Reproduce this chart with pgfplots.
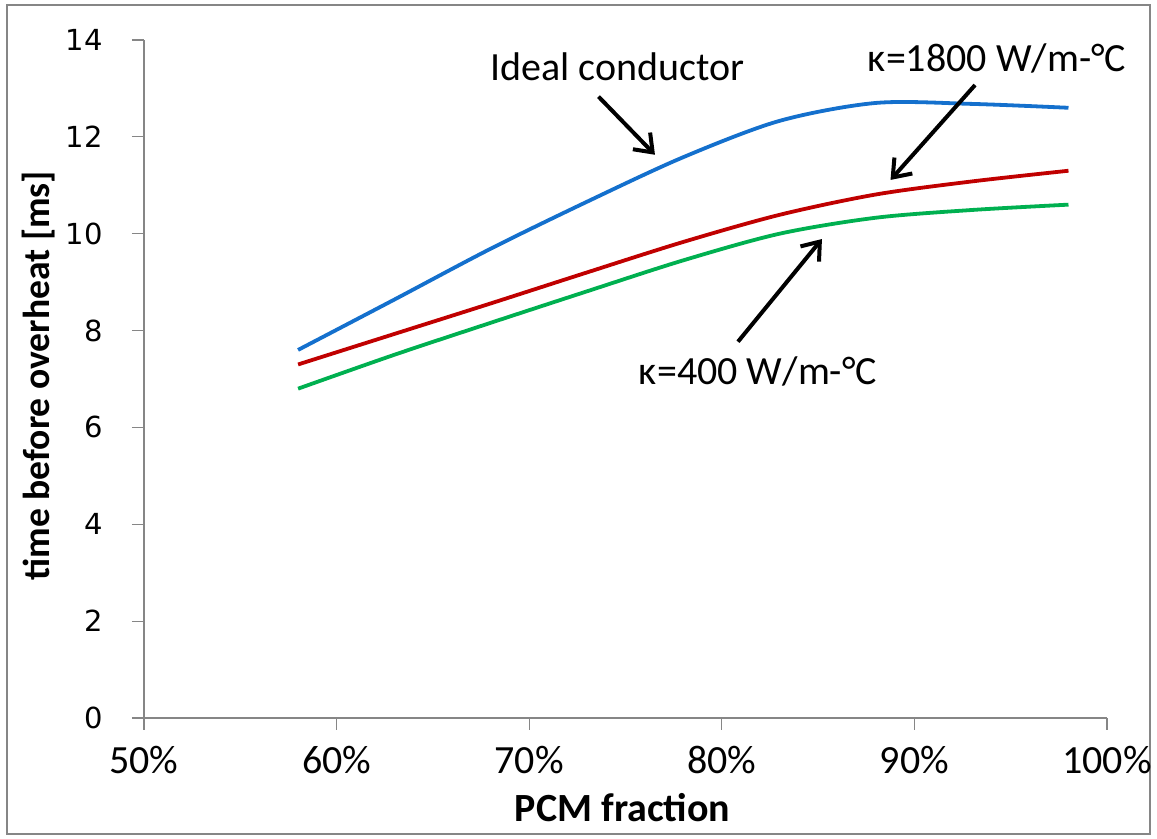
\documentclass[border=0pt]{standalone}
\usepackage{fontspec}
\setmainfont{Carlito}
\newfontfamily\dejavu{DejaVu Sans}
\usepackage{pgfplots}
\pgfplotsset{compat=1.18}
\usetikzlibrary{arrows.meta}

\definecolor{axisgray}{RGB}{134,134,134}
\definecolor{idealblue}{RGB}{20,112,205}
\definecolor{kred}{RGB}{192,0,0}
\definecolor{kgreen}{RGB}{0,176,80}

% time before overheat [ms] against PCM fraction [%]
\pgfplotstableread{
x     y
58    7.60
63    8.64
68    9.69
73   10.66
78   11.58
83   12.33
88   12.70
93   12.68
98   12.60
}\ideal
\pgfplotstableread{
x     y
58    7.30
63    7.93
68    8.56
73    9.20
78    9.83
83   10.39
88   10.81
93   11.08
98   11.30
}\kHigh
\pgfplotstableread{
x     y
58    6.80
63    7.50
68    8.16
73    8.81
78    9.45
83   10.00
88   10.33
93   10.49
98   10.60
}\kLow

\newcommand\yfont{\fontsize{14.5}{17}\selectfont\dejavu}
\newcommand\txtfont{\fontsize{20}{24}\selectfont}

\begin{document}
\begin{tikzpicture}
\useasboundingbox (0,0) rectangle (578.5pt,419.5pt);
\draw[axisgray, line width=0.6pt] (3.5pt,2.5pt) rectangle (575pt,417pt);
\begin{axis}[
  at={(72pt,60.5pt)}, anchor=south west,
  scale only axis, width=481.5pt, height=339pt,
  xmin=50, xmax=100, ymin=0, ymax=14,
  axis x line*=bottom, axis y line*=left,
  axis line style={draw=axisgray, line width=0.6pt},
  tick align=outside, major tick length=6pt,
  tick style={draw=axisgray, line width=0.6pt},
  xtick={50,60,70,80,90,100},
  xticklabels={50\%,60\%,70\%,80\%,90\%,100\%},
  ytick={0,2,4,6,8,10,12,14},
  yticklabels={0,2,4,6,8,10,12,14},
  xticklabel style={font=\txtfont, inner sep=0pt, anchor=north, yshift=-8pt},
  yticklabel style={font=\yfont, inner sep=0pt, anchor=east, xshift=-14.5pt},
  xlabel={PCM fraction},
  ylabel={time before overheat [ms]},
  xlabel style={font=\bfseries\txtfont, at={(axis description cs:0.497,-0.1534)}, anchor=base},
  ylabel style={font=\bfseries\fontsize{18.8}{22}\selectfont, at={(axis description cs:-0.109,0.505)}, anchor=center},
  clip=false,
]
\addplot[idealblue, line width=1.9pt, smooth] table[x=x,y=y] {\ideal};
\addplot[kred, line width=1.9pt, smooth] table[x=x,y=y] {\kHigh};
\addplot[kgreen, line width=1.9pt, smooth] table[x=x,y=y] {\kLow};

\node[anchor=base, font=\txtfont] at (axis cs:74.58,13.16) {Ideal conductor};
\node[anchor=base, font=\txtfont] at (axis cs:94.29,13.35) {κ=1800 W/m-°C};
\node[anchor=base, font=\txtfont] at (axis cs:81.88,6.88) {κ=400 W/m-°C};

\draw[line width=2pt, -{Straight Barb[length=8pt,width=12pt,line width=2pt]}] (axis cs:73.6,12.83) -- (axis cs:76.53,11.63);
\draw[line width=2pt, -{Straight Barb[length=8pt,width=12pt,line width=2pt]}] (axis cs:93.15,13.07) -- (axis cs:88.76,11.11);
\draw[line width=2pt, -{Straight Barb[length=8pt,width=12pt,line width=2pt]}] (axis cs:80.84,7.77) -- (axis cs:85.20,9.89);
\end{axis}
\end{tikzpicture}
\end{document}
